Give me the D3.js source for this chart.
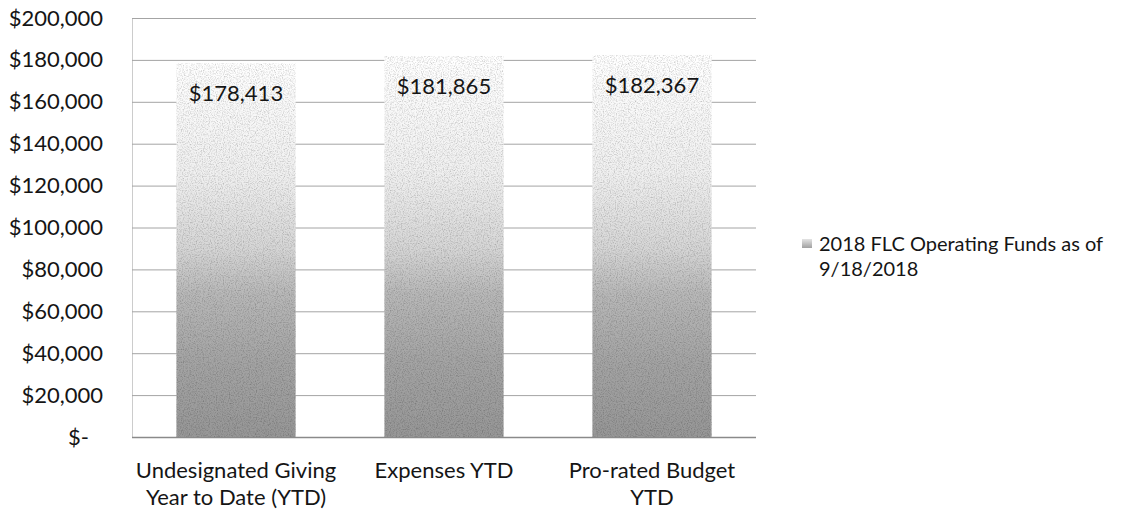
<!DOCTYPE html>
<html>
<head>
<meta charset="utf-8">
<script src="https://cdn.jsdelivr.net/npm/d3@7"></script>
<style>
  html, body { margin: 0; padding: 0; background: #fff; }
  svg { display: block; }
  text { font-family: Lato, "Open Sans", sans-serif; fill: #151515; }
</style>
</head>
<body>
<svg id="chart" width="1142" height="516"></svg>
<script>
const categories = [["Undesignated Giving", "Year to Date (YTD)"], ["Expenses YTD"], ["Pro-rated Budget", "YTD"]];
const values = [178413, 181865, 182367];
const yTicks = [0, 20000, 40000, 60000, 80000, 100000, 120000, 140000, 160000, 180000, 200000];
const legendLines = ["2018 FLC Operating Funds as of", "9/18/2018"];

const svg = d3.select("#chart");
const plot = { left: 132, right: 756, top: 18, bottom: 437 };

const x = d3.scaleBand().domain(d3.range(categories.length)).range([plot.left, plot.right]).paddingInner(0.427).paddingOuter(0.2135);
const y = d3.scaleLinear().domain([0, 200000]).range([plot.bottom, plot.top]);

const defs = svg.append("defs");
const grad = defs.append("linearGradient").attr("id", "barGrad")
  .attr("gradientUnits", "userSpaceOnUse")
  .attr("x1", 0).attr("x2", 0).attr("y1", y(180000)).attr("y2", y(0));
[[0, "#ffffff"], [0.3, "#f0f0f0"], [0.5, "#d6d6d6"], [0.62, "#b8b8b8"], [0.8, "#a4a4a4"], [1, "#979797"]].forEach(([o, c]) =>
  grad.append("stop").attr("offset", o).attr("stop-color", c));

const lgrad = defs.append("linearGradient").attr("id", "legGrad").attr("x1", 0).attr("x2", 0).attr("y1", 0).attr("y2", 1);
[[0, "#e4e4e4"], [1, "#a0a0a0"]].forEach(([o, c]) => lgrad.append("stop").attr("offset", o).attr("stop-color", c));

const f = defs.append("filter").attr("id", "grain").attr("x", 0).attr("y", 0).attr("width", 1).attr("height", 1);
f.append("feTurbulence").attr("type", "fractalNoise").attr("baseFrequency", 0.85).attr("numOctaves", 2).attr("seed", 3).attr("result", "noise");
f.append("feColorMatrix").attr("in", "noise").attr("type", "matrix")
  .attr("values", "0 0 0 0 0  0 0 0 0 0  0 0 0 0 0  0.9 0 0 0 -0.38").attr("result", "dark");
f.append("feComposite").attr("in", "dark").attr("in2", "SourceGraphic").attr("operator", "in").attr("result", "darkIn");
f.append("feMerge").selectAll("feMergeNode").data(["SourceGraphic", "darkIn"]).join("feMergeNode").attr("in", d => d);

// gridlines and y axis
const yAxis = d3.axisLeft(y).tickValues(yTicks).tickSize(-(plot.right - plot.left)).tickPadding(29)
  .tickFormat(d => d === 0 ? "$-" : "$" + d3.format(",")(d));
const gy = svg.append("g").attr("transform", `translate(${plot.left},0)`).call(yAxis);
gy.select(".domain").attr("stroke", "#cccccc").attr("stroke-width", 1);
gy.selectAll(".tick line").attr("stroke", d => d === 0 ? "#8a8a8a" : "#a4a4a4").attr("stroke-width", d => d === 0 ? 1.5 : 1);
gy.selectAll(".tick text").attr("font-size", 22).attr("fill", "#151515")
  .attr("dx", d => d === 0 ? -14 : 0);

// bars
svg.append("g").selectAll("rect").data(values).join("rect")
  .attr("x", (d, i) => x(i)).attr("width", x.bandwidth())
  .attr("y", d => y(d)).attr("height", d => y(0) - y(d))
  .attr("fill", "url(#barGrad)").attr("filter", "url(#grain)");

// value labels
svg.append("g").selectAll("text").data(values).join("text")
  .attr("x", (d, i) => x(i) + x.bandwidth() / 2)
  .attr("y", d => y(d) + 38)
  .attr("text-anchor", "middle").attr("font-size", 22)
  .text(d => "$" + d3.format(",")(d));

// category labels
const cg = svg.append("g").selectAll("text").data(categories).join("text")
  .attr("x", (d, i) => x(i) + x.bandwidth() / 2)
  .attr("y", 478).attr("text-anchor", "middle").attr("font-size", 22);
cg.selectAll("tspan").data(d => d).join("tspan")
  .attr("x", function () { return this.parentNode.getAttribute("x"); })
  .attr("dy", (d, i) => i === 0 ? 0 : 27).text(d => d);

// legend
const lg = svg.append("g");
lg.append("rect").attr("x", 802).attr("y", 239).attr("width", 10).attr("height", 9).attr("fill", "url(#legGrad)");
lg.append("text").attr("x", 819).attr("y", 251).attr("font-size", 20)
  .selectAll("tspan").data(legendLines).join("tspan")
  .attr("x", 819).attr("dy", (d, i) => i === 0 ? 0 : 25).text(d => d);
</script>
</body>
</html>
